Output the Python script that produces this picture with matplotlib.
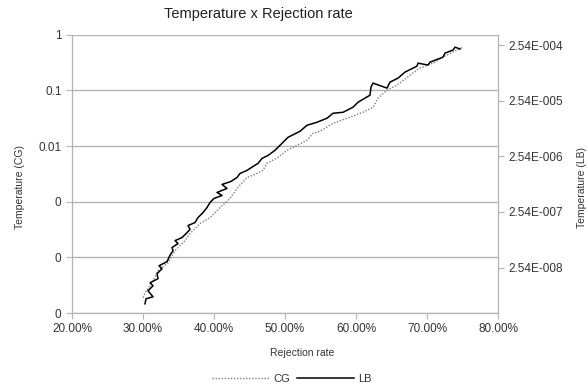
import matplotlib
matplotlib.use('Agg')
import matplotlib.pyplot as plt
from matplotlib.ticker import FixedLocator, FixedFormatter, NullLocator

plt.rcParams['font.family'] = ['Liberation Sans', 'DejaVu Sans']

# rejection rate (%) and temperature, CG run
cg_rate = [30.0, 30.28, 30.70, 31.41, 32.11, 33.52, 34.51, 35.92, 36.62, 38.03,
           39.44, 40.85, 42.25, 43.24, 44.65, 45.77, 46.90, 47.46, 49.01, 50.28,
           51.69, 53.10, 53.94, 54.93, 56.76, 59.15, 60.99, 62.39, 63.10, 64.37,
           65.77, 67.61, 69.01, 70.85, 72.25, 73.66, 75.07]
cg_temp = [1.88e-5, 2.31e-5, 2.73e-5, 3.80e-5, 5.75e-5, 8.02e-5, 1.32e-4, 2.00e-4,
           2.67e-4, 4.05e-4, 5.19e-4, 7.86e-4, 1.14e-3, 1.73e-3, 2.73e-3, 3.09e-3,
           3.65e-3, 4.88e-3, 6.25e-3, 8.37e-3, 1.03e-2, 1.27e-2, 1.69e-2, 1.84e-2,
           2.56e-2, 3.29e-2, 4.05e-2, 4.98e-2, 7.23e-2, 0.101, 0.124, 0.188, 0.251,
           0.309, 0.396, 0.488, 0.600]

# rejection rate (%) and temperature, LB run
lb_rate = [30.28, 30.42, 31.41, 30.70, 31.41, 30.99, 32.11, 31.97, 32.68, 32.25,
           33.38, 33.80, 34.23, 34.08, 34.93, 34.51, 35.49, 36.06, 36.62, 36.34,
           37.32, 37.75, 38.45, 39.01, 39.44, 40.00, 41.13, 40.42, 41.83, 41.13,
           42.39, 43.24, 43.66, 44.65, 45.49, 46.20, 46.76, 47.61, 48.59, 49.58,
           50.42, 52.11, 53.10, 54.51, 55.92, 56.76, 58.17, 59.58, 60.28, 61.97,
           62.11, 62.39, 64.37, 64.79, 65.92, 66.90, 68.59, 68.73, 70.14, 70.42,
           72.25, 72.54, 73.66, 73.94, 74.65]
lb_temp = [5.70e-9, 7.01e-9, 7.62e-9, 9.77e-9, 1.20e-8, 1.36e-8, 1.61e-8, 1.98e-8,
           2.43e-8, 2.75e-8, 3.26e-8, 4.25e-8, 5.14e-8, 5.82e-8, 6.87e-8, 7.78e-8,
           8.81e-8, 1.04e-7, 1.23e-7, 1.45e-7, 1.64e-7, 2.02e-7, 2.48e-7, 3.05e-7,
           3.77e-7, 4.45e-7, 5.04e-7, 5.70e-7, 6.73e-7, 7.94e-7, 8.99e-7, 1.06e-6,
           1.25e-6, 1.42e-6, 1.67e-6, 1.90e-6, 2.33e-6, 2.64e-6, 3.26e-6, 4.36e-6,
           5.58e-6, 7.16e-6, 9.18e-6, 1.04e-5, 1.23e-5, 1.51e-5, 1.57e-5, 1.94e-5,
           2.38e-5, 3.19e-5, 4.45e-5, 5.25e-5, 4.27e-5, 5.47e-5, 6.46e-5, 8.28e-5,
           1.06e-4, 1.20e-4, 1.11e-4, 1.25e-4, 1.54e-4, 1.82e-4, 2.06e-4, 2.33e-4,
           2.15e-4]

x_ticks = [20, 30, 40, 50, 60, 70, 80]
x_labels = ['20.00%', '30.00%', '40.00%', '50.00%', '60.00%', '70.00%', '80.00%']
cg_ticks = [1e-5, 1e-4, 1e-3, 1e-2, 1e-1, 1]
cg_labels = ['0', '0', '0', '0.01', '0.1', '1']
lb_ticks = [2.54e-8, 2.54e-7, 2.54e-6, 2.54e-5, 2.54e-4]
lb_labels = ['2.54E-008', '2.54E-007', '2.54E-006', '2.54E-005', '2.54E-004']

grey = '#b3b3b3'
txt = '#333333'

fig = plt.figure(figsize=(5.87, 3.90), dpi=100)
ax = fig.add_axes([0.1227, 0.1974, 0.7257, 0.7136])
ax2 = ax.twinx()

ax.plot(cg_rate, cg_temp, color='#7f7f7f', lw=1.0, ls=(0, (1, 1.2)))
ax2.plot(lb_rate, lb_temp, color='black', lw=1.1)

ax.set_xlim(20, 80)
ax.set_yscale('log'); ax.set_ylim(1e-5, 1)
ax2.set_yscale('log'); ax2.set_ylim(3.89e-9, 3.89e-4)

ax.xaxis.set_major_locator(FixedLocator(x_ticks))
ax.xaxis.set_major_formatter(FixedFormatter(x_labels))
ax.yaxis.set_major_locator(FixedLocator(cg_ticks))
ax.yaxis.set_major_formatter(FixedFormatter(cg_labels))
ax.yaxis.set_minor_locator(NullLocator())
ax2.yaxis.set_major_locator(FixedLocator(lb_ticks))
ax2.yaxis.set_major_formatter(FixedFormatter(lb_labels))
ax2.yaxis.set_minor_locator(NullLocator())

ax.grid(True, axis='y', color=grey, lw=1.0)
ax.set_axisbelow(True)
for a in (ax, ax2):
    for s in a.spines.values():
        s.set_color(grey)
    a.tick_params(colors=grey, labelcolor=txt, labelsize=8.5, length=4, width=0.8)
ax.spines['top'].set_visible(False); ax2.spines['top'].set_visible(False)

fig.text(0.44, 0.965, 'Temperature x Rejection rate', ha='center', va='center',
         fontsize=10.5, color='#202020')
fig.text(0.514, 0.095, 'Rejection rate', ha='center', va='center', fontsize=7.5, color=txt)
fig.text(0.034, 0.52, 'Temperature (CG)', rotation=90, ha='center', va='center',
         fontsize=7.5, color=txt)
fig.text(0.992, 0.52, 'Temperature (LB)', rotation=90, ha='center', va='center',
         fontsize=7.5, color=txt)

h1, = ax.plot([], [], color='#7f7f7f', lw=1.0, ls=(0, (1, 1.2)))
h2, = ax.plot([], [], color='black', lw=1.1)
fig.legend([h1, h2], ['CG', 'LB'], loc='center', bbox_to_anchor=(0.497, 0.028),
           ncol=2, frameon=False, fontsize=8, handlelength=5.2, columnspacing=0.6,
           handletextpad=0.3, labelcolor=txt)

fig.savefig('out.png', dpi=100)
